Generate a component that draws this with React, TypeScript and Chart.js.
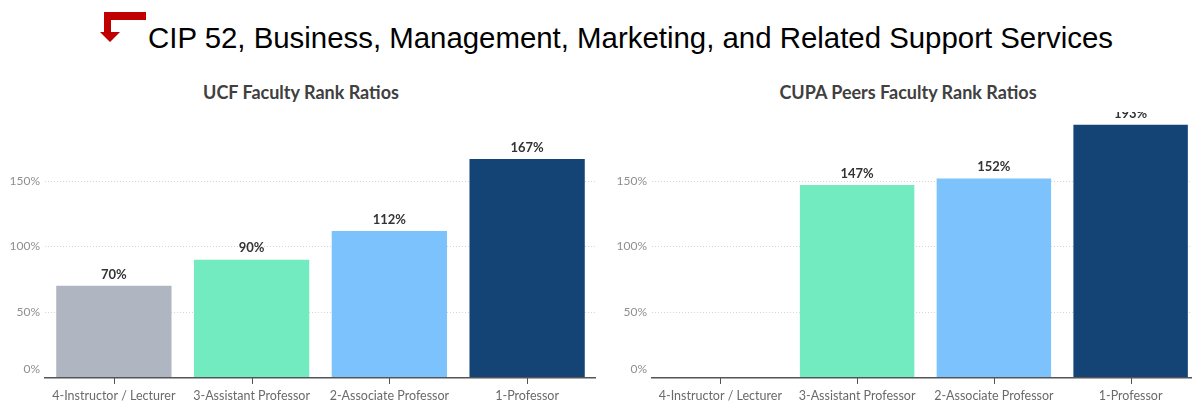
import React, { useEffect, useRef } from "react";
import { Chart, registerables } from "chart.js";

Chart.register(...registerables);

const categories = ["4-Instructor / Lecturer", "3-Assistant Professor", "2-Associate Professor", "1-Professor"];
const ucfValues: (number | null)[] = [70, 90, 112, 167];
const cupaValues: (number | null)[] = [null, 147, 152, 193];
const barColors = ["#AFB5C1", "#72EBC1", "#7CC2FC", "#134475"];
const yTicks = [0, 50, 100, 150];
const mainTitle = "CIP 52, Business, Management, Marketing, and Related Support Services";
const leftTitle = "UCF Faculty Rank Ratios";
const rightTitle = "CUPA Peers Faculty Rank Ratios";

const LABEL_FONT = "Lato, 'Open Sans', sans-serif";

function makeChart(canvas: HTMLCanvasElement, values: (number | null)[], yAxisWidth: number) {
  const labelPlugin = {
    id: "customLabels",
    afterDraw(chart: any) {
      const ctx = chart.ctx;
      const meta = chart.getDatasetMeta(0);
      const area = chart.chartArea;
      ctx.save();
      // x tick marks at category centres
      ctx.fillStyle = "#555555";
      meta.data.forEach((bar: any) => {
        const px = Math.round(bar.x);
        ctx.fillRect(px, area.bottom + 0.5, 1, 6);
      });
      ctx.font = `bold 13px ${LABEL_FONT}`;
      ctx.fillStyle = "#333333";
      ctx.textAlign = "center";
      ctx.textBaseline = "bottom";
      meta.data.forEach((bar: any, i: number) => {
        const v = values[i];
        if (v === null || v === undefined) return;
        ctx.fillText(`${v}%`, bar.x, bar.y - 5);
      });
      // y tick labels
      const ys = chart.scales.y;
      ctx.font = `12px ${LABEL_FONT}`;
      ctx.fillStyle = "#8f8f8f";
      ctx.textAlign = "right";
      ctx.textBaseline = "middle";
      yTicks.forEach((t) => {
        let py = ys.getPixelForValue(t);
        if (py > area.bottom - 8) py = area.bottom - 8;
        ctx.fillText(`${t}%`, area.left - 5, py);
      });
      ctx.restore();
    },
  };

  return new Chart(canvas, {
    type: "bar",
    data: {
      labels: categories,
      datasets: [
        {
          data: values.map((v) => (v === null ? 0 : v)) as any,
          backgroundColor: barColors,
          borderWidth: 0,
          categoryPercentage: 1,
          barPercentage: 0.837,
        },
      ],
    },
    options: {
      animation: false,
      responsive: false,
      maintainAspectRatio: false,
      layout: { padding: { top: 5, right: 0, left: 0, bottom: 0 } },
      plugins: {
        legend: { display: false },
        title: { display: false },
        tooltip: { enabled: false },
      },
      scales: {
        x: {
          offset: true,
          grid: { display: true, drawOnChartArea: false, drawTicks: true, tickLength: 7, color: "rgba(0,0,0,0)" },
          border: { display: true, color: "#555555", width: 1.5 },
          ticks: { color: "#6a6a6a", font: { family: LABEL_FONT, size: 12.5 }, padding: 4, maxRotation: 0, autoSkip: false },
          afterFit: (scale: any) => {
            scale.height = 25.5;
          },
        },
        y: {
          min: 0,
          max: 199,
          afterBuildTicks: (scale: any) => {
            scale.ticks = yTicks.map((v) => ({ value: v }));
          },
          grid: {
            color: (c: any) => (c.tick && c.tick.value === 0 ? "rgba(0,0,0,0)" : "#d6d6d6"),
            drawTicks: false,
            lineWidth: 1,
          },
          border: { display: false, dash: [1, 2] },
          ticks: { display: false },
          afterFit: (scale: any) => {
            scale.width = yAxisWidth;
          },
        },
      },
    },
    plugins: [labelPlugin],
  } as any);
}

function BarChart({ values, yAxisWidth, width, height }: { values: (number | null)[]; yAxisWidth: number; width: number; height: number }) {
  const ref = useRef<HTMLCanvasElement | null>(null);
  useEffect(() => {
    if (!ref.current) return;
    const chart = makeChart(ref.current, values, yAxisWidth);
    return () => chart.destroy();
  }, []);
  return <canvas ref={ref} width={width} height={height} style={{ width, height, display: "block" }} />;
}

export default function App() {
  useEffect(() => {
    document.body.style.margin = "0";
  }, []);
  return (
    <div style={{ position: "relative", width: 1192, height: 403, overflow: "hidden", background: "#ffffff" }}>
      <svg width={60} height={50} style={{ position: "absolute", left: 90, top: 0 }}>
        <polygon points="14,12 56,12 56,20 21,20 21,32 30,32 20,42 10,32 14,32" fill="#C00000" />
      </svg>
      <div
        style={{
          position: "absolute",
          left: 148,
          top: 21,
          fontFamily: "'Liberation Sans', Arial, sans-serif",
          fontSize: 29.4,
          lineHeight: "34px",
          color: "#000",
          whiteSpace: "nowrap",
        }}
      >
        {mainTitle}
      </div>
      <div
        style={{
          position: "absolute",
          left: 0,
          width: 602,
          top: 79,
          textAlign: "center",
          fontFamily: LABEL_FONT,
          fontWeight: 700,
          fontSize: 18,
          lineHeight: "26px",
          color: "#404040",
        }}
      >
        {leftTitle}
      </div>
      <div
        style={{
          position: "absolute",
          left: 608,
          width: 600,
          top: 79,
          textAlign: "center",
          fontFamily: LABEL_FONT,
          fontWeight: 700,
          fontSize: 18,
          lineHeight: "26px",
          color: "#404040",
        }}
      >
        {rightTitle}
      </div>
      <div style={{ position: "absolute", left: 0, top: 112 }}>
        <BarChart values={ucfValues} yAxisWidth={45} width={596} height={291} />
      </div>
      <div style={{ position: "absolute", left: 596, top: 112 }}>
        <BarChart values={cupaValues} yAxisWidth={56} width={603} height={291} />
      </div>
    </div>
  );
}
